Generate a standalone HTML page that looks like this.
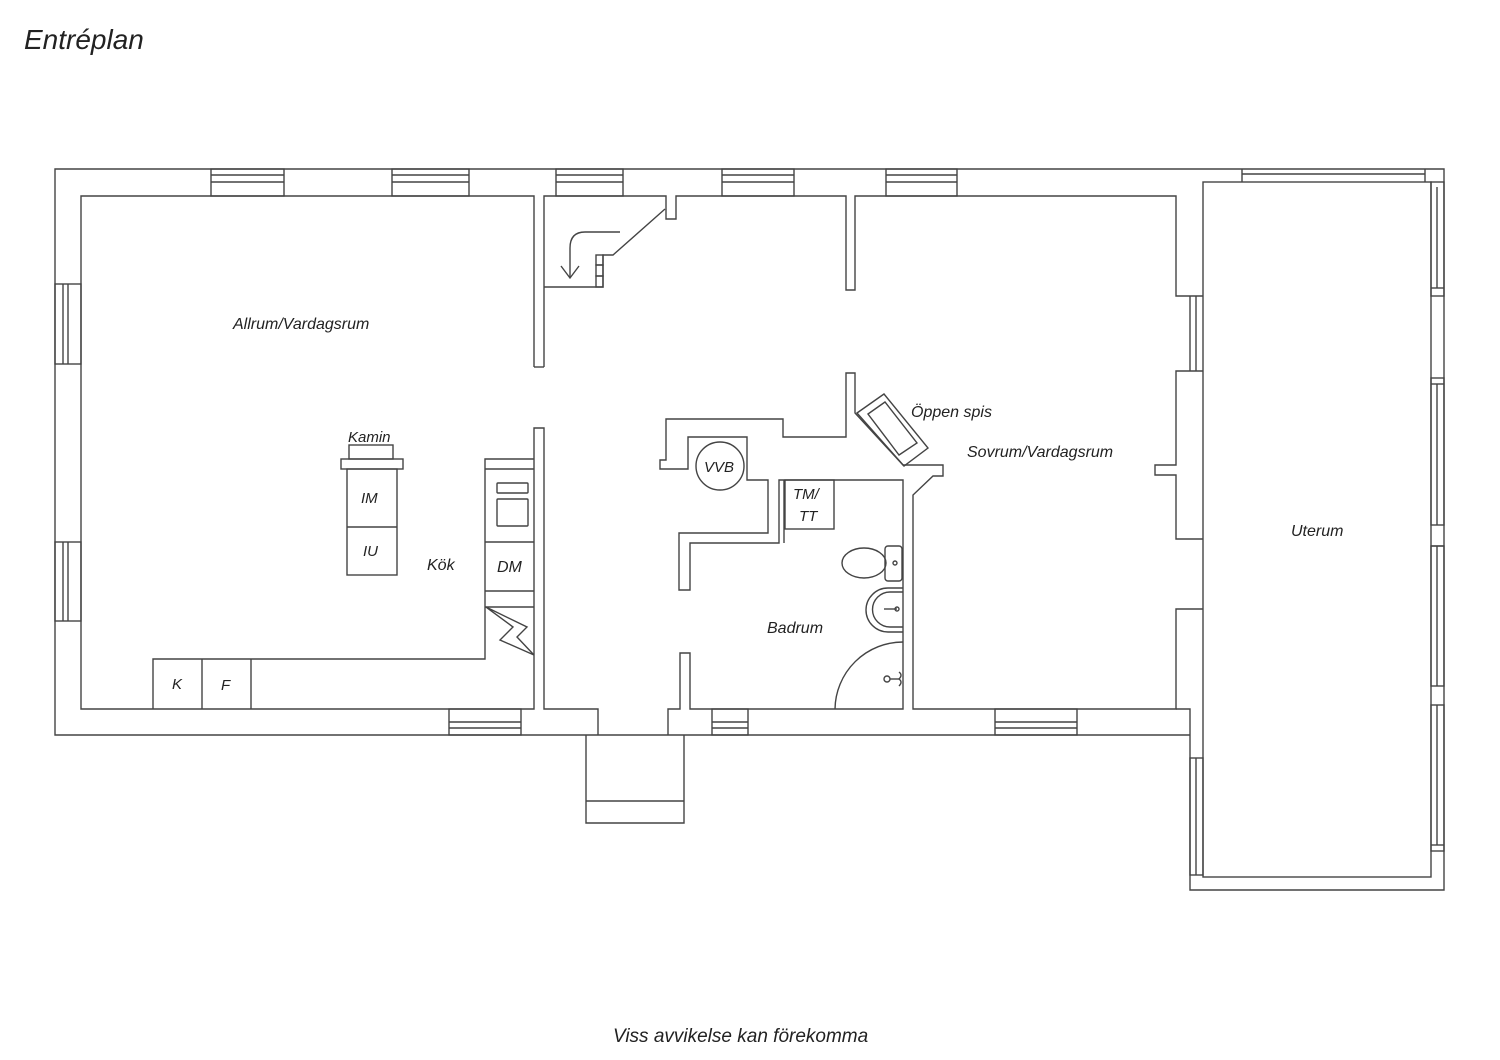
<!DOCTYPE html>
<html><head><meta charset="utf-8"><style>
html,body{margin:0;padding:0;background:#fff;width:1500px;height:1060px;overflow:hidden}
text{font-family:"Liberation Sans","DejaVu Sans",sans-serif;font-style:italic;fill:#222}
</style></head><body>
<svg width="1500" height="1060" viewBox="0 0 1500 1060" xmlns="http://www.w3.org/2000/svg">
<g fill="none" stroke="#444" stroke-width="1.4">
<!-- outer -->
<polyline points="1190,735 55,735 55,169 1444,169 1444,890 1190,890 1190,735"/>
<!-- uterum inner -->
<rect x="1203" y="182" width="228" height="695"/>
<!-- living room inner -->
<polyline points="534,367 534,196 81,196 81,709 534,709 534,428 544,428 544,709 598,709 598,735"/>
<polyline points="544,367 544,196 666,196 666,219 676,219 676,196 846,196 846,290 855,290 855,196 1176,196 1176,296 1203,296"/>
<line x1="534" y1="367" x2="544" y2="367"/>
<polyline points="1203,371 1176,371 1176,465 1155,465 1155,475 1176,475 1176,539 1203,539"/>
<polyline points="1203,609 1176,609 1176,709 913,709 913,495 933,476 943,476 943,465 903,465 855,413 855,373 846,373 846,437 783,437 783,419 666,419 666,460 660,460 660,469 688,469 688,437 747,437 747,480 768,480 768,533 679,533 679,590 690,590 690,543 779,543 779,480 903,480 903,709 690,709 690,653 680,653 680,709 668,709 668,735"/>
<line x1="784" y1="480" x2="784" y2="543"/>
<!-- uterum side wall bottom -->
<polyline points="1176,709 1190,709 1190,735"/>
<!-- steps -->
<polyline points="586,735 586,823 684,823 684,735"/>
<line x1="586" y1="801" x2="684" y2="801"/>
<!-- stair -->
<polyline points="544,287 603,287 603,255 613,255 665,209"/>
<rect x="596" y="255" width="7" height="10"/><rect x="596" y="265" width="7" height="11"/><rect x="596" y="276" width="7" height="11"/>
<path d="M620,232 H585 Q570,232 570,248 V278"/>
<polyline points="561,266 570,278 579,266"/>
<!-- windows top -->
<g>
<rect x="211" y="169" width="73" height="27"/><line x1="211" y1="175" x2="284" y2="175"/><line x1="211" y1="182" x2="284" y2="182"/>
<rect x="392" y="169" width="77" height="27"/><line x1="392" y1="175" x2="469" y2="175"/><line x1="392" y1="182" x2="469" y2="182"/>
<rect x="556" y="169" width="67" height="27"/><line x1="556" y1="175" x2="623" y2="175"/><line x1="556" y1="182" x2="623" y2="182"/>
<rect x="722" y="169" width="72" height="27"/><line x1="722" y1="175" x2="794" y2="175"/><line x1="722" y1="182" x2="794" y2="182"/>
<rect x="886" y="169" width="71" height="27"/><line x1="886" y1="175" x2="957" y2="175"/><line x1="886" y1="182" x2="957" y2="182"/>
<line x1="1242" y1="169" x2="1242" y2="182"/><line x1="1425" y1="169" x2="1425" y2="182"/><line x1="1242" y1="174" x2="1425" y2="174"/>
</g>
<!-- windows left -->
<rect x="55" y="284" width="26" height="80"/><line x1="63" y1="284" x2="63" y2="364"/><line x1="68" y1="284" x2="68" y2="364"/>
<rect x="55" y="542" width="26" height="79"/><line x1="63" y1="542" x2="63" y2="621"/><line x1="68" y1="542" x2="68" y2="621"/>
<!-- windows bottom -->
<rect x="449" y="709" width="72" height="26"/><line x1="449" y1="722" x2="521" y2="722"/><line x1="449" y1="728" x2="521" y2="728"/>
<rect x="712" y="709" width="36" height="26"/><line x1="712" y1="722" x2="748" y2="722"/><line x1="712" y1="728" x2="748" y2="728"/>
<rect x="995" y="709" width="82" height="26"/><line x1="995" y1="722" x2="1077" y2="722"/><line x1="995" y1="728" x2="1077" y2="728"/>
<!-- sovrum window right -->
<line x1="1190" y1="296" x2="1190" y2="371"/><line x1="1196" y1="296" x2="1196" y2="371"/>
<!-- uterum right windows -->
<rect x="1431" y="182" width="13" height="114"/><line x1="1437" y1="187" x2="1437" y2="288"/><line x1="1431" y1="288" x2="1444" y2="288"/>
<rect x="1431" y="378" width="13" height="147"/><line x1="1437" y1="384" x2="1437" y2="525"/><line x1="1431" y1="384" x2="1444" y2="384"/>
<rect x="1431" y="546" width="13" height="140"/><line x1="1437" y1="546" x2="1437" y2="686"/><line x1="1431" y1="546" x2="1444" y2="546"/>
<rect x="1431" y="705" width="13" height="146"/><line x1="1437" y1="705" x2="1437" y2="845"/><line x1="1431" y1="845" x2="1444" y2="845"/>
<rect x="1190" y="758" width="13" height="117"/><line x1="1196" y1="758" x2="1196" y2="875"/>
<!-- kitchen -->
<polyline points="534,459 485,459 485,659 153,659 153,709"/>
<line x1="485" y1="469" x2="534" y2="469"/>
<line x1="485" y1="542" x2="534" y2="542"/>
<line x1="485" y1="591" x2="534" y2="591"/>
<line x1="485" y1="607" x2="534" y2="607"/>
<rect x="497" y="483" width="31" height="10" rx="1"/><rect x="497" y="499" width="31" height="27" rx="1"/>
<polyline points="486,607 513,627 500,640 534,655 517,637 527,627 486,607"/>
<line x1="202" y1="659" x2="202" y2="709"/><line x1="251" y1="659" x2="251" y2="709"/>
<!-- kamin -->
<rect x="349" y="445" width="44" height="14"/>
<rect x="341" y="459" width="62" height="10"/>
<rect x="347" y="469" width="50" height="106"/><line x1="347" y1="527" x2="397" y2="527"/>
<!-- VVB -->
<circle cx="720" cy="466" r="24"/>
<!-- TM/TT -->
<rect x="785" y="480" width="49" height="49"/>
<!-- fireplace -->
<polygon points="857,413 884,394 928,448 904,466"/>
<polygon points="868,414 885,402 917,443 899,455"/>
<!-- toilet -->
<ellipse cx="864" cy="563" rx="22" ry="15"/>
<rect x="885" y="546" width="17" height="35" rx="3"/>
<circle cx="895" cy="563" r="2"/>
<!-- sink -->
<path d="M903,588 H888 A21,21 0 0 0 888,632 H903"/>
<path d="M903,592 H890 A17,17 0 0 0 890,627 H903"/>
<line x1="884" y1="609" x2="897" y2="609"/><circle cx="897" cy="609" r="2"/>
<!-- shower -->
<path d="M835,709 A68,68 0 0 1 903,642"/>
<circle cx="887" cy="679" r="3"/><line x1="890" y1="679" x2="899" y2="679"/><path d="M899,672 q4,3 0,7 q4,3 0,7"/>
</g>
<g font-size="16">
<text x="24" y="49" font-size="28" fill="#222">Entréplan</text>
<text x="233" y="329">Allrum/Vardagsrum</text>
<text x="348" y="442" font-size="15">Kamin</text>
<text x="361" y="503" font-size="15">IM</text>
<text x="363" y="556" font-size="15">IU</text>
<text x="427" y="570">Kök</text>
<text x="497" y="572">DM</text>
<text x="172" y="689" font-size="15">K</text>
<text x="221" y="690" font-size="15">F</text>
<text x="704" y="472" font-size="15">VVB</text>
<text x="793" y="499" font-size="15">TM/</text>
<text x="799" y="521" font-size="15">TT</text>
<text x="911" y="417">Öppen spis</text>
<text x="967" y="457">Sovrum/Vardagsrum</text>
<text x="767" y="633">Badrum</text>
<text x="1291" y="536">Uterum</text>
<text x="613" y="1042" font-size="19">Viss avvikelse kan förekomma</text>
</g>
</svg>
</body></html>
